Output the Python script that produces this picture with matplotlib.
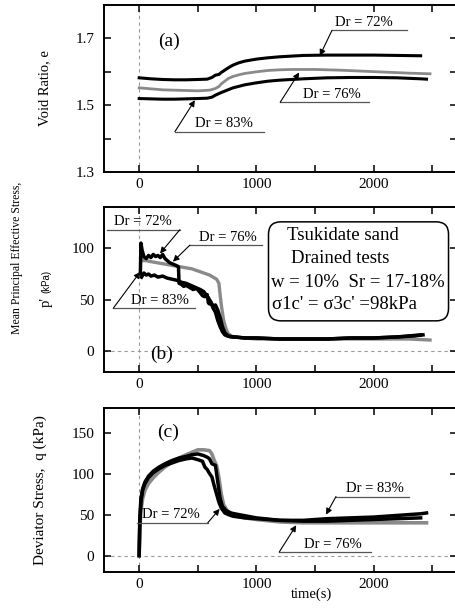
import matplotlib
matplotlib.use("Agg")
import matplotlib.pyplot as plt
from matplotlib.patches import FancyBboxPatch
from matplotlib.ticker import FixedLocator

plt.rcParams['font.family'] = ['Liberation Serif', 'DejaVu Serif']

# (a) void ratio
t_a72 = [0, 100, 200, 300, 400, 500, 580, 620, 650, 680, 700, 730, 760, 800, 850, 900, 1000, 1100, 1200, 1400, 1600, 1800, 2000, 2200, 2400]
e_a72 = [1.582, 1.579, 1.577, 1.576, 1.576, 1.577, 1.578, 1.583, 1.590, 1.592, 1.598, 1.605, 1.612, 1.620, 1.627, 1.632, 1.638, 1.642, 1.645, 1.649, 1.650, 1.650, 1.650, 1.649, 1.648]
t_a76 = [0, 100, 200, 300, 400, 500, 600, 650, 680, 700, 730, 760, 800, 850, 900, 1000, 1100, 1200, 1300, 1500, 1700, 1900, 2100, 2300, 2480]
e_a76 = [1.552, 1.549, 1.546, 1.545, 1.544, 1.543, 1.545, 1.550, 1.556, 1.564, 1.572, 1.580, 1.586, 1.591, 1.595, 1.600, 1.604, 1.606, 1.607, 1.607, 1.605, 1.602, 1.599, 1.596, 1.594]
t_a83 = [0, 100, 200, 300, 400, 500, 580, 620, 650, 700, 750, 800, 900, 1000, 1100, 1200, 1400, 1600, 1800, 2000, 2200, 2400, 2450]
e_a83 = [1.520, 1.519, 1.518, 1.518, 1.519, 1.520, 1.521, 1.524, 1.530, 1.538, 1.545, 1.552, 1.561, 1.567, 1.572, 1.575, 1.579, 1.582, 1.583, 1.583, 1.582, 1.579, 1.578]

# (b) mean principal effective stress p'
t_b72 = [10, 15, 25, 40, 60, 80, 100, 120, 140, 160, 180, 200, 220, 240, 260, 280, 300, 320, 335, 340, 360, 380, 400, 430, 460, 490, 520, 540, 560, 580, 590, 600, 610, 630, 650, 670, 690, 710, 730, 750, 780, 820, 900, 1000, 1200, 1400, 1600, 1800, 2000, 2200, 2400]
p_b72 = [75, 105, 98, 92, 90, 93, 91, 94, 92, 93, 91, 94, 90, 88, 86, 85, 84, 83, 82, 66, 65, 63, 64, 62, 60, 61, 57, 54, 53, 55, 47, 46, 48, 42, 38, 30, 24, 19, 16, 15, 14, 14, 13, 13, 12, 12, 12, 13, 13, 14, 16]
t_b76 = [20, 30, 60, 100, 150, 200, 250, 300, 350, 400, 450, 500, 550, 600, 630, 660, 680, 690, 700, 720, 740, 760, 800, 900, 1000, 1200, 1500, 1800, 2100, 2300, 2480]
p_b76 = [95, 88, 88, 87, 86, 85, 84, 83, 82, 81, 80, 78, 76, 74, 72, 70, 66, 55, 45, 30, 22, 17, 14, 13, 12, 12, 12, 12, 12, 12, 11]
t_b83 = [20, 40, 60, 80, 100, 130, 160, 200, 240, 280, 320, 360, 400, 440, 480, 520, 550, 570, 590, 610, 630, 650, 670, 690, 710, 730, 760, 800, 900, 1000, 1200, 1400, 1600, 1800, 2000, 2200, 2350, 2420]
p_b83 = [72, 76, 74, 75, 73, 74, 72, 73, 71, 70, 69, 67, 66, 64, 62, 60, 58, 55, 52, 48, 44, 45, 40, 33, 24, 18, 15, 14, 13, 13, 12, 12, 12, 13, 13, 14, 15, 16]

# (c) deviator stress q
t_c76 = [0, 5, 15, 30, 50, 80, 120, 170, 220, 280, 340, 400, 450, 500, 550, 600, 620, 640, 660, 680, 700, 720, 750, 800, 900, 1000, 1200, 1400, 1600, 1800, 2000, 2200, 2450]
q_c76 = [0, 30, 55, 70, 80, 88, 95, 102, 108, 114, 119, 123, 126, 129, 129, 128, 124, 116, 110, 95, 75, 62, 55, 50, 46, 44, 41, 40, 40, 40, 40, 40, 40]
t_c72 = [0, 5, 15, 30, 50, 80, 120, 170, 220, 280, 340, 400, 450, 500, 540, 560, 580, 600, 620, 640, 660, 680, 700, 730, 760, 800, 900, 1000, 1200, 1400, 1600, 1800, 2000, 2200, 2400]
q_c72 = [0, 40, 65, 80, 88, 95, 101, 106, 110, 113, 116, 118, 119, 117, 115, 108, 105, 100, 96, 85, 75, 65, 58, 52, 50, 48, 46, 45, 43, 42, 42, 43, 44, 45, 46]
t_c83 = [0, 5, 15, 30, 50, 80, 120, 170, 220, 280, 340, 400, 450, 500, 550, 580, 600, 620, 650, 670, 690, 710, 740, 780, 850, 1000, 1200, 1400, 1600, 1800, 2000, 2200, 2400, 2450]
q_c83 = [0, 45, 70, 82, 90, 97, 103, 108, 112, 116, 119, 121, 123, 124, 122, 120, 118, 112, 110, 90, 70, 60, 55, 52, 50, 46, 43, 43, 45, 46, 47, 49, 51, 52]

GRAY = '#8a8a8a'
W, H = 456, 612

fig = plt.figure(figsize=(W / 100, H / 100), dpi=100)


def make_ax(top, bottom):
    ax = fig.add_axes([104 / W, 1 - bottom / H, 353 / W, (bottom - top) / H])
    ax.set_xlim(-300, 2710)
    ax.set_xticks([0, 1000, 2000])
    ax.xaxis.set_minor_locator(FixedLocator([500, 1500, 2500]))
    ax.tick_params(which='both', direction='in', top=True, right=True,
                   length=5, width=1.1, labelsize=11, pad=4)
    ax.tick_params(axis='y', pad=7)
    for s in ax.spines.values():
        s.set_linewidth(1.4)
    ax.axvline(0, color='#999999', lw=0.8, ls=(0, (3, 3)), zorder=0)
    return ax


def dr_label(ax, text, tx, x0, x1, uy, tip, start):
    ax.annotate(text, (tx, uy), xytext=(0, 1), textcoords='offset points',
                ha='center', va='bottom', fontsize=10.5)
    ax.plot([x0, x1], [uy, uy], color='#555555', lw=0.9)
    ax.annotate('', xy=tip, xytext=(start, uy),
                arrowprops=dict(arrowstyle='-|>', color='k', lw=0.8,
                                mutation_scale=9, shrinkA=0, shrinkB=0))


# ---- (a)
ax = make_ax(5, 172)
ax.set_ylim(1.3, 1.8)
ax.set_yticks([1.3, 1.5, 1.7])
ax.yaxis.set_minor_locator(FixedLocator([1.4, 1.6]))
ax.plot(t_a76, e_a76, color=GRAY, lw=2)
ax.plot(t_a72, e_a72, color='k', lw=2.2)
ax.plot(t_a83, e_a83, color='k', lw=2.2)
ax.text(250, 1.69, '(a)', fontsize=14, ha='center', va='center')
dr_label(ax, 'Dr = 72%', 1915, 1644, 2280, 1.724, (1540, 1.648), 1644)
dr_label(ax, 'Dr = 76%', 1647, 1203, 1958, 1.509, (1364, 1.598), 1203)
dr_label(ax, 'Dr = 83%', 720, 305, 1068, 1.421, (475, 1.515), 305)

# ---- (b)
ax = make_ax(207, 372)
ax.set_ylim(-20, 140)
ax.set_yticks([0, 50, 100])
ax.axhline(0, color='#999999', lw=0.8, ls=(0, (3, 3)), zorder=0)
ax.plot(t_b76, p_b76, color=GRAY, lw=2.4)
ax.plot(t_b83, p_b83, color='k', lw=2.5)
ax.plot(t_b72, p_b72, color='k', lw=2.5)
ax.text(190, -3, '(b)', fontsize=14, ha='center', va='center')
dr_label(ax, 'Dr = 72%', 34, -271, 347, 118, (178, 95), 347)
dr_label(ax, 'Dr = 76%', 755, 432, 1051, 103, (288, 87), 432)
dr_label(ax, 'Dr = 83%', 178, -220, 475, 42, (8, 77), -220)
box = FancyBboxPatch((0.466, 0.31), 0.51, 0.60,
                     boxstyle='round,pad=0,rounding_size=0.035',
                     transform=ax.transAxes, mutation_aspect=353 / 165,
                     fc='white', ec='k', lw=1.1, zorder=3)
ax.add_patch(box)
ax.text(1263, 112, 'Tsukidate sand', fontsize=13.5, va='center', zorder=4)
ax.text(1297, 90, 'Drained tests', fontsize=13.5, va='center', zorder=4)
ax.text(1127, 67, 'w = 10%  Sr = 17-18%', fontsize=13.5, va='center', zorder=4)
ax.text(1136, 45, "σ1c' = σ3c' =98kPa", fontsize=13.5, va='center', zorder=4)

# ---- (c)
ax = make_ax(408, 572)
ax.set_ylim(-20, 180)
ax.set_yticks([0, 50, 100, 150])
ax.axhline(0, color='#999999', lw=0.8, ls=(0, (3, 3)), zorder=0)
ax.plot(t_c76, q_c76, color=GRAY, lw=2.6)
ax.plot(t_c72, q_c72, color='k', lw=2.5)
ax.plot(t_c83, q_c83, color='k', lw=2.5)
ax.text(250, 150, '(c)', fontsize=14, ha='center', va='center')
dr_label(ax, 'Dr = 83%', 2011, 1678, 2297, 72, (1593, 50), 1678)
dr_label(ax, 'Dr = 76%', 1653, 1195, 1975, 4.5, (1339, 37), 1195)
dr_label(ax, 'Dr = 72%', 271, -17, 585, 40, (686, 57), 585)

# axis titles
fig.text(45 / W, 1 - 88 / H, 'Void Ratio, e', rotation=90, fontsize=10.5,
         ha='center', va='center')
fig.text(17 / W, 1 - 258 / H, 'Mean Principal Effective Stress,', rotation=90,
         fontsize=8.5, ha='center', va='center')
fig.text(46 / W, 1 - 302 / H, "p'", rotation=90, fontsize=10.5,
         ha='center', va='center')
fig.text(46 / W, 1 - 281 / H, '(kPa)', rotation=90, fontsize=7,
         ha='center', va='center', family=['Liberation Sans', 'DejaVu Sans'])
fig.text(40 / W, 1 - 490 / H, 'Deviator Stress,  q (kPa)', rotation=90,
         fontsize=11, ha='center', va='center')
fig.text(312 / W, 1 - 594 / H, 'time(s)', fontsize=10.5, ha='center', va='center')

fig.savefig('out.png', dpi=100)
